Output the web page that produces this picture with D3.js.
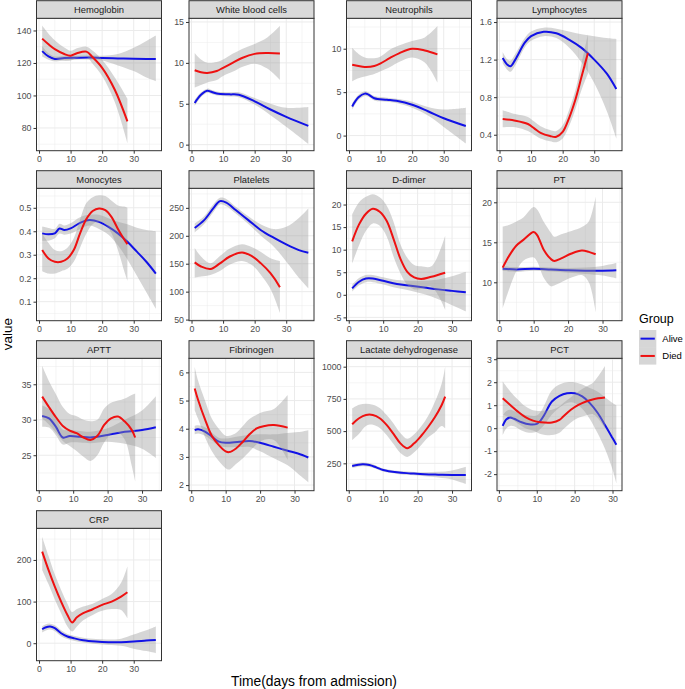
<!DOCTYPE html>
<html>
<head>
<meta charset='UTF-8'>
<title>Lab values by outcome</title>
<script src='https://cdn.jsdelivr.net/npm/d3@7/dist/d3.min.js'></script>
<style>
  body {margin:0; background:#fff;}
  svg text {font-family:'Liberation Sans', Arial, sans-serif;}
</style>
</head>
<body>
<div id='chart'></div>
<script>
/* smoothed fits, each row: [day, fit, lower, upper] */
var hgbAlive = [[1,127.3,124,130.5],[3,124,122,126],[5,122.5,121,124],[8,123,121.5,124.5],[12,123.2,122,124.5],[16,123.3,122,124.6],[20,123,121.5,124.5],[25,122.8,118.5,125.5],[30,122.6,115,129.3],[34,122.5,111,133.5],[37,122.4,108.8,136.9]];
var hgbDied = [[1,135,128,143],[3,131.5,125,138],[5,128.5,123,134],[8,125.5,121.5,129.5],[10,124.5,121.5,127.5],[12,126,123,129],[15,127,124,130],[17,123.5,119.5,127.5],[20,117,112,122],[24,103.5,96,111],[28,84,70.7,98]];
var wbcAlive = [[1,5.1,4.75,5.45],[3,6.1,5.8,6.4],[5,6.6,6.35,6.85],[6,6.5,6.25,6.75],[8,6.25,6.0,6.5],[12,6.15,5.9,6.4],[15,6.1,5.8,6.4],[20,5.3,4.9,5.7],[25,4.3,3.6,5.0],[30,3.4,2.2,4.5],[37,2.3,0.1,4.6]];
var wbcDied = [[1,9.1,7.0,11.2],[3,8.85,7.3,10.4],[5,8.77,7.6,10.0],[8,9.0,7.9,10.1],[10,9.4,8.4,10.4],[13,10.0,8.9,11.1],[16,10.6,9.5,11.7],[20,11.1,9.9,12.3],[24,11.2,9.3,13.1],[28,11.15,7.9,14.5]];
var neuAlive = [[1,3.36,3.0,3.7],[3,4.4,4.1,4.7],[5,4.83,4.55,5.1],[6,4.75,4.5,5.0],[8,4.3,4.05,4.55],[12,4.13,3.9,4.36],[15,4.0,3.75,4.25],[20,3.55,3.2,3.9],[25,2.8,2.3,3.3],[30,2.0,1.0,3.0],[37,1.1,-0.9,3.2]];
var neuDied = [[1,8.15,6.25,10.1],[3,8.0,6.6,9.4],[5,7.9,6.8,9.0],[8,8.0,7.1,8.9],[10,8.3,7.4,9.1],[13,8.95,7.9,9.9],[16,9.5,8.5,10.4],[20,10.0,9.0,10.9],[24,9.8,8.4,11.3],[28,9.35,6.1,12.6]];
var lymAlive = [[1,1.218,1.16,1.28],[2.5,1.146,1.09,1.2],[3.5,1.13,1.07,1.19],[5,1.2,1.14,1.26],[8,1.38,1.33,1.43],[10,1.45,1.40,1.50],[14,1.496,1.45,1.54],[18,1.48,1.43,1.53],[22,1.414,1.33,1.5],[26,1.325,1.17,1.47],[30,1.2,0.95,1.45],[34,1.05,0.65,1.43],[37,0.886,0.36,1.42]];
var lymDied = [[1,0.568,0.48,0.66],[5,0.55,0.48,0.62],[9,0.514,0.44,0.59],[11,0.468,0.40,0.54],[13,0.42,0.36,0.49],[16,0.386,0.33,0.45],[18,0.378,0.32,0.44],[20,0.43,0.36,0.50],[22,0.575,0.49,0.66],[24,0.77,0.67,0.87],[26,1.02,0.88,1.16],[28,1.27,1.05,1.47]];
var monAlive = [[1,0.391,0.36,0.42],[3,0.387,0.36,0.414],[5,0.391,0.37,0.41],[6.5,0.412,0.39,0.432],[8,0.405,0.385,0.425],[10,0.412,0.39,0.434],[13,0.436,0.41,0.46],[16,0.448,0.425,0.47],[19,0.44,0.41,0.47],[22,0.419,0.385,0.455],[25,0.391,0.34,0.44],[28,0.355,0.28,0.43],[31,0.313,0.21,0.415],[34,0.27,0.14,0.405],[37,0.22,0.07,0.40]];
var monDied = [[1,0.32,0.23,0.39],[3,0.284,0.22,0.35],[5,0.27,0.22,0.32],[7,0.27,0.23,0.315],[9,0.284,0.24,0.33],[11,0.32,0.27,0.37],[13,0.391,0.33,0.45],[15,0.452,0.39,0.52],[17,0.486,0.43,0.545],[19,0.497,0.44,0.553],[21,0.49,0.43,0.55],[23,0.46,0.39,0.53],[25,0.41,0.32,0.51],[27,0.365,0.23,0.505],[28,0.345,0.19,0.50]];
var pltAlive = [[1,214,206,222],[4,228,221,235],[7,250,243,257],[9,262,256,268],[11,259.5,253,266],[14,246,240,252],[18,228,221,235],[22,210,200,220],[26,196.5,181,212],[30,184.5,154,216],[34,174.4,125,232],[37,169.7,106,249]];
var pltDied = [[1,152.4,125,178],[3,145,127,163],[6,140.5,130,151],[9,150.6,137,164],[12,162.5,148,177],[16,170,155,185],[19,164,148,180],[22,150.6,130,171],[25,133,105,160],[28,108,62,155]];
var ddAlive = [[1,1.44,0.7,2.2],[3,2.9,2.1,3.7],[5,3.6,2.8,4.4],[7,3.6,2.8,4.4],[10,3.1,2.3,3.9],[14,2.4,1.5,3.3],[18,2.0,0.9,3.1],[22,1.6,0.1,3.1],[26,1.2,-1.0,3.4],[30,0.87,-2.3,4.1],[34,0.55,-3.65,5.1]];
var ddDied = [[1,11.85,6.9,17.8],[3,15.6,11,20.5],[5,17.97,14.2,21.7],[7,19.06,15.8,22.3],[9,18.4,15.3,21.6],[11,16.4,13,19.8],[13,12.4,8.5,16.2],[15,8.0,4.8,11.2],[17,5.1,2.2,8.2],[19,3.84,1.2,6.6],[21,3.5,1.3,6.3],[24,4.0,1.8,6.3],[28,4.9,-3.3,13.1]];
var ptAlive = [[1,11.7,11.4,12.0],[5,11.6,11.3,11.9],[10,11.7,11.45,11.95],[15,11.6,11.35,11.85],[20,11.5,11.2,11.8],[25,11.45,11.05,11.85],[30,11.45,10.85,12.05],[34,11.5,10.5,12.4]];
var ptDied = [[1,11.83,6.75,16.96],[3,13.4,9.3,17.2],[5,14.6,11.4,17.6],[7,15.3,12.7,18.1],[10,16.3,13.1,19.4],[11,15.9,12.6,19.1],[13,14.0,10.5,17.5],[15,12.9,9.5,16.2],[16,12.67,9.6,15.7],[18,13.0,10.0,16.0],[21,13.6,10.6,16.4],[24,13.96,10.9,16.9],[26,13.8,10.0,17.6],[28,13.5,6.3,20.7]];
var apttAlive = [[1,30.54,29.0,32.0],[3,30.2,28.9,31.5],[5,29.0,27.8,30.2],[7,27.5,26.5,28.6],[9,27.7,26.8,28.6],[12,27.6,26.8,28.4],[15,27.5,26.7,28.3],[20,27.86,26.9,28.8],[25,28.3,26.6,30.0],[30,28.56,25.9,31.3],[34,28.94,24.6,33.3]];
var apttDied = [[1,33.26,30.2,37.6],[3,31.76,29.3,35.4],[5,30.35,28.2,33.6],[7,29.13,27.0,31.8],[9,28.47,26.3,30.8],[11,28.1,25.6,30.5],[13,27.5,24.8,30.0],[15,27.16,24.2,29.8],[17,27.7,25.0,30.0],[19,29.27,26.8,31.6],[21,30.2,28.0,32.4],[23,30.45,28.2,32.7],[25,29.74,27.2,33.0],[27,28.57,23.5,33.5],[28,27.5,21.3,33.7]];
var fibAlive = [[1,3.95,3.8,4.1],[2,3.98,3.83,4.12],[4,3.9,3.75,4.05],[6,3.72,3.58,3.86],[8,3.54,3.4,3.68],[10,3.5,3.35,3.65],[14,3.54,3.35,3.73],[17,3.56,3.35,3.78],[20,3.5,3.2,3.8],[24,3.36,2.95,3.8],[28,3.22,2.7,3.85],[31,3.12,2.4,3.88],[34,2.98,2.1,3.95]];
var fibDied = [[1,5.43,4.66,6.2],[2,5.02,4.35,5.7],[4,4.33,3.7,5.0],[6,3.74,3.2,4.35],[8,3.42,2.85,4.0],[10,3.2,2.6,3.75],[11,3.17,2.55,3.75],[13,3.3,2.75,3.85],[15,3.54,2.95,4.1],[17,3.81,3.2,4.35],[19,4.01,3.45,4.5],[21,4.09,3.6,4.6],[24,4.13,3.6,4.7],[28,4.04,2.9,5.2]];
var ldhAlive = [[1,230,215,245],[4,242,228,256],[6,237,223,251],[8,219,206,232],[10,198,186,210],[14,180,168,192],[18,172,159,185],[22,165,150,180],[26,162,140,184],[30,160,125,195],[34,160,90,224]];
var ldhDied = [[1,553,431,677],[3,600,480,705],[5,625,540,712],[7,625,550,705],[9,600,525,680],[11,548,470,625],[13,478,400,560],[15,405,330,485],[17,367,300,440],[19,405,335,475],[21,462,390,535],[23,530,450,615],[25,607,490,725],[27,703,540,870],[28,767,522,1000]];
var pctAlive = [[1,0.1,-0.3,0.55],[2,0.39,0.0,0.75],[3,0.46,0.1,0.8],[4,0.41,0.08,0.75],[6,0.26,-0.1,0.62],[8,0.17,-0.2,0.55],[10,0.19,-0.15,0.55],[11,0.33,-0.02,0.7],[12,0.58,0.15,1.0],[14,1.16,0.6,1.65],[16,1.41,0.9,1.9],[18,1.52,1.1,2.0],[20,1.52,1.1,2.0],[22,1.38,0.85,1.9],[24,1.09,0.4,1.75],[26,0.68,-0.2,1.6],[28,0.14,-0.9,1.35],[30,-0.43,-1.8,1.1],[31,-0.72,-2.4,1.0]];
var pctDied = [[1,1.3,0.58,2.03],[3,1.01,0.45,1.6],[5,0.72,0.2,1.25],[7,0.48,0.0,0.95],[9,0.33,-0.1,0.78],[11,0.26,-0.25,0.75],[14,0.25,-0.3,0.8],[16,0.36,-0.2,0.95],[17,0.51,-0.05,1.1],[19,0.8,0.25,1.35],[21,1.01,0.45,1.6],[23,1.16,0.55,1.8],[25,1.26,0.6,2.0],[28,1.33,0.0,2.7]];
var crpAlive = [[1,33.6,26,41],[2,37.6,30,45],[3.5,40,33,47],[5,36,29,43],[7,24,17,31],[9,16,10,22],[11,12,6,18],[14,7.2,1.5,13],[18,4,-2,10],[22,2.4,-4,9],[26,2.4,-6,11],[30,4,-13,21],[34,6.4,-19,31],[37,8,-24,40]];
var crpDied = [[1,220,176,256],[3,176,142,210],[5,136,105,165],[7,100,72,128],[9,68,40,95],[10.5,50,28,75],[12,62.4,40,82],[14,72,55,88],[17,81.6,68,95],[20,92,78,106],[23,100,82,118],[26,112,80,145],[28,122.4,60,184]];

var panelNames = ['Hemoglobin','White blood cells','Neutrophils','Lymphocytes','Monocytes','Platelets','D-dimer','PT','APTT','Fibrinogen','Lactate dehydrogenase','PCT','CRP'];
var aliveFits = [hgbAlive, wbcAlive, neuAlive, lymAlive, monAlive, pltAlive, ddAlive, ptAlive, apttAlive, fibAlive, ldhAlive, pctAlive, crpAlive];
var diedFits = [hgbDied, wbcDied, neuDied, lymDied, monDied, pltDied, ddDied, ptDied, apttDied, fibDied, ldhDied, pctDied, crpDied];
var yLimits = [[66,147.5],[-0.74,15.45],[-1.74,13.5],[0.23,1.64],[0.019,0.583],[48,285],[-5.74,23.6],[5.2,21.75],[20,38.66],[1.8,6.5],[37.6,1065],[-2.72,3.04],[-42,276]];
var yTicks = [[80,100,120,140],[0,5,10,15],[0,5,10],[0.4,0.8,1.2,1.6],[0.1,0.2,0.3,0.4,0.5],[50,100,150,200,250],[-5,0,5,10,15,20],[10,15,20],[25,30,35],[2,3,4,5,6],[250,500,750,1000],[-2,-1,0,1,2,3],[0,100,200]];
var xTicks = [0,10,20,30];
var groups = ['Alive','Died'];
var groupColors = ['#1212e6','#ee1111'];

var width = 685;
var height = 689;
var colLeft = [36.5, 189, 346.5, 497];
var panelW = 125;
var stripH = 17.6;
var panelH = 132.4;
var rowStep = 170;
var top0 = 0.7;

var svg = d3.select('#chart').append('svg')
  .attr('width', width)
  .attr('height', height);
var defs = svg.append('defs');

// minor breaks the ggplot way: midpoints of majors, extended one step each side
function minorBreaks(ticks, domain) {
  var step = ticks[1] - ticks[0];
  var ext = [ticks[0] - step].concat(ticks, [ticks[ticks.length-1] + step]);
  var out = [];
  for (var k = 0; k < ext.length - 1; k++) {
    var m = (ext[k] + ext[k+1]) / 2;
    if (m > domain[0] && m < domain[1]) out.push(m);
  }
  return out;
}

panelNames.forEach(function(name, i) {
  var col = i % 4;
  var row = Math.floor(i / 4);
  var px = colLeft[col];
  var py = top0 + row * rowStep + stripH;
  var series = [aliveFits[i], diedFits[i]];

  var days = d3.extent(series[0].concat(series[1]), function(d) { return d[0]; });
  var pad = (days[1] - days[0]) * 0.05;
  var x = d3.scaleLinear().domain([days[0] - pad, days[1] + pad]).range([0, panelW]);
  var y = d3.scaleLinear().domain(yLimits[i]).range([panelH, 0]);

  var g = svg.append('g').attr('transform', `translate(${px}, ${py})`);

  g.append('rect').attr('width', panelW).attr('height', panelH).attr('fill', '#fff');

  /* grid */
  var xMinor = minorBreaks(xTicks, x.domain());
  var yMinor = minorBreaks(yTicks[i], y.domain());
  g.selectAll('.xminor').data(xMinor).enter().append('line')
    .attr('x1', d => x(d)).attr('x2', d => x(d)).attr('y1', 0).attr('y2', panelH)
    .attr('stroke', '#ebebeb').attr('stroke-width', 0.5);
  g.selectAll('.yminor').data(yMinor).enter().append('line')
    .attr('x1', 0).attr('x2', panelW).attr('y1', d => y(d)).attr('y2', d => y(d))
    .attr('stroke', '#ebebeb').attr('stroke-width', 0.5);
  g.selectAll('.xmajor').data(xTicks.filter(t => t >= x.domain()[0] && t <= x.domain()[1])).enter().append('line')
    .attr('x1', d => x(d)).attr('x2', d => x(d)).attr('y1', 0).attr('y2', panelH)
    .attr('stroke', '#ebebeb').attr('stroke-width', 1);
  g.selectAll('.ymajor').data(yTicks[i]).enter().append('line')
    .attr('x1', 0).attr('x2', panelW).attr('y1', d => y(d)).attr('y2', d => y(d))
    .attr('stroke', '#ebebeb').attr('stroke-width', 1);

  /* ribbons and lines */
  defs.append('clipPath').attr('id', 'clip' + i)
    .append('rect').attr('width', panelW).attr('height', panelH);
  var plot = g.append('g').attr('clip-path', `url(#clip${i})`);

  var curve = d3.curveCatmullRom.alpha(0.5);
  var band = d3.area()
    .x(d => x(d[0]))
    .y0(d => y(d[2]))
    .y1(d => y(d[3]))
    .curve(curve);
  var line = d3.line()
    .x(d => x(d[0]))
    .y(d => y(d[1]))
    .curve(curve);

  series.forEach(function(s, j) {
    plot.append('path')
      .attr('d', band(s))
      .attr('fill', '#999999')
      .attr('fill-opacity', 0.4);
    plot.append('path')
      .attr('d', line(s))
      .attr('fill', 'none')
      .attr('stroke', groupColors[j])
      .attr('stroke-width', 2);
  });

  g.append('rect').attr('width', panelW).attr('height', panelH)
    .attr('fill', 'none').attr('stroke', '#333').attr('stroke-width', 1);

  /* strip */
  g.append('rect')
    .attr('y', -stripH).attr('width', panelW).attr('height', stripH)
    .attr('fill', '#d9d9d9').attr('stroke', '#333').attr('stroke-width', 1);
  g.append('text')
    .attr('x', panelW / 2).attr('y', -stripH / 2)
    .attr('dy', '0.35em')
    .attr('text-anchor', 'middle')
    .attr('font-size', '9.4px')
    .attr('fill', '#1a1a1a')
    .text(name);

  /* axes */
  var xAxis = d3.axisBottom(x).tickValues(xTicks).tickSize(3).tickPadding(2).tickFormat(d => String(d));
  var yAxis = d3.axisLeft(y).tickValues(yTicks[i]).tickSize(3).tickPadding(2).tickFormat(d => String(d));

  var xa = g.append('g').attr('transform', `translate(0, ${panelH})`).call(xAxis);
  var ya = g.append('g').call(yAxis);
  [xa, ya].forEach(function(a) {
    a.select('.domain').remove();
    a.selectAll('line').attr('stroke', '#333');
    a.selectAll('text').attr('fill', '#4d4d4d').attr('font-size', '8.8px')
      .attr('font-family', "'Liberation Sans', Arial, sans-serif");
  });
});

/* axis titles */
svg.append('text')
  .attr('x', 314).attr('y', 686)
  .attr('text-anchor', 'middle')
  .attr('font-size', '13.8px')
  .attr('fill', '#000')
  .text('Time(days from admission)');

svg.append('text')
  .attr('transform', 'translate(12, 334) rotate(-90)')
  .attr('text-anchor', 'middle')
  .attr('font-size', '13.5px')
  .attr('fill', '#000')
  .text('value');

/* legend */
var legend = svg.append('g').attr('transform', 'translate(639, 313)');
legend.append('text')
  .attr('x', 0).attr('y', 10)
  .attr('font-size', '12.5px')
  .attr('fill', '#000')
  .text('Group');
var keySize = 17.3;
var keys = legend.selectAll('.key').data(groups).enter().append('g')
  .attr('transform', (d, k) => `translate(0, ${17 + k * keySize})`);
keys.append('rect')
  .attr('width', keySize).attr('height', keySize)
  .attr('fill', '#999999').attr('fill-opacity', 0.4);
keys.append('line')
  .attr('x1', 1.5).attr('x2', keySize - 1.5)
  .attr('y1', keySize / 2).attr('y2', keySize / 2)
  .attr('stroke', (d, k) => groupColors[k])
  .attr('stroke-width', 2);
keys.append('text')
  .attr('x', keySize + 6).attr('y', keySize / 2)
  .attr('dy', '0.35em')
  .attr('font-size', '9.5px')
  .attr('fill', '#000')
  .text(d => d);
</script>
</body>
</html>
